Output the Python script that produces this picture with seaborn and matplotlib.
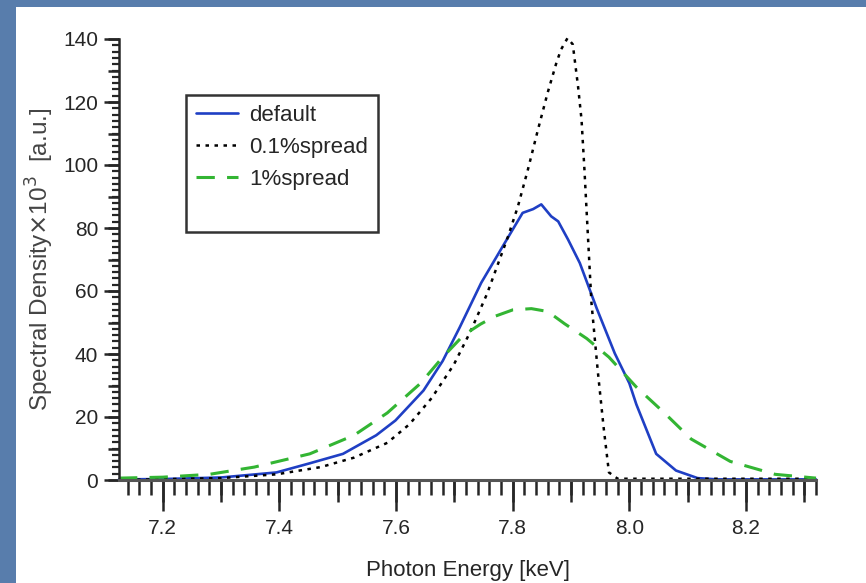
import numpy as np
import pandas as pd
import matplotlib
matplotlib.use("Agg")
import matplotlib.pyplot as plt
from matplotlib.ticker import MultipleLocator, FixedLocator, NullFormatter
from matplotlib.lines import Line2D
from matplotlib.patches import Rectangle
import seaborn as sns

sns.set_style("ticks")
plt.rcParams['font.family'] = ['Liberation Sans Narrow', 'Liberation Sans', 'DejaVu Sans']

# photon energy [keV] / spectral density x10^3
default_x = [7.125, 7.20, 7.30, 7.395, 7.452, 7.509, 7.566, 7.599, 7.647, 7.680, 7.709,
             7.746, 7.783, 7.817, 7.835, 7.849, 7.866, 7.878, 7.895, 7.915, 7.944, 7.975,
             8.000, 8.012, 8.046, 8.080, 8.117, 8.15, 8.32]
default_y = [0.2, 0.3, 0.8, 2.4, 5.3, 8.3, 14.2, 18.9, 28.4, 37.8, 48.4,
             62.6, 74.2, 84.8, 86.0, 87.5, 83.7, 82.1, 76.3, 68.9, 54.5, 40.2,
             30.7, 24.0, 8.3, 3.0, 0.6, 0.2, 0.2]

narrow_x = [7.125, 7.30, 7.395, 7.471, 7.528, 7.585, 7.623, 7.661, 7.699, 7.728,
            7.756, 7.792, 7.809, 7.826, 7.843, 7.860, 7.875, 7.883, 7.894, 7.903,
            7.912, 7.918, 7.923, 7.929, 7.935, 7.946, 7.956, 7.965, 7.980, 8.32]
narrow_y = [0.0, 0.6, 1.8, 4.1, 7.1, 11.8, 17.7, 26.0, 36.6, 47.3,
            59.1, 77.3, 86.9, 98.5, 111.0, 123.0, 132.5, 136.7, 140.3, 138.3,
            125.0, 114.4, 98.5, 77.3, 56.3, 34.3, 16.5, 2.4, 0.4, 0.4]

wide_x = [7.125, 7.20, 7.28, 7.357, 7.452, 7.528, 7.585, 7.642, 7.680, 7.716,
          7.745, 7.77, 7.80, 7.832, 7.86, 7.889, 7.927, 7.965, 8.012, 8.06,
          8.106, 8.173, 8.25, 8.32]
wide_y = [0.6, 0.9, 1.8, 4.1, 8.3, 14.2, 21.3, 30.7, 39.0, 46.0,
          49.5, 52.0, 54.0, 54.4, 53.5, 49.6, 44.9, 39.0, 29.5, 21.3,
          13.0, 5.9, 1.8, 0.6]

series = ["default", "0.1%spread", "1%spread"]
colors = ["#1f3fc4", "black", "#33b533"]

df = pd.concat([
    pd.DataFrame({"energy": default_x, "density": default_y, "case": series[0]}),
    pd.DataFrame({"energy": narrow_x, "density": narrow_y, "case": series[1]}),
    pd.DataFrame({"energy": wide_x, "density": wide_y, "case": series[2]}),
])

fig = plt.figure(figsize=(8.66, 5.83), dpi=100, facecolor="#587dac")
fig.patches.append(Rectangle((16 / 866, 0), 1, 1 - 7 / 583, transform=fig.transFigure,
                             facecolor="white", edgecolor="none", zorder=-10))
ax = fig.add_axes([119 / 866, 1 - 480 / 583, (816 - 119) / 866, (480 - 39) / 583])
ax.set_facecolor("none")

styles = {"default": dict(ls="-", lw=1.9), "0.1%spread": dict(ls=(0, (1.4, 2.2)), lw=1.8),
          "1%spread": dict(ls=(0, (6, 4)), lw=2.2)}
for name, col in zip(series, colors):
    sub = df[df["case"] == name]
    sns.lineplot(data=sub, x="energy", y="density", color=col, ax=ax,
                 label=name, clip_on=False, **styles[name])

ax.set_xlim(7.125, 8.32)
ax.set_ylim(0, 140)
sns.despine(ax=ax)
ax.spines["left"].set_linewidth(1.8)
ax.spines["bottom"].set_linewidth(2.2)
ax.spines["bottom"].set_color("#555555")

ax.xaxis.set_major_locator(FixedLocator([7.2, 7.4, 7.6, 7.8, 8.0, 8.2]))
ax.xaxis.set_minor_locator(MultipleLocator(0.02))
ax.yaxis.set_major_locator(MultipleLocator(20))
ax.yaxis.set_minor_locator(MultipleLocator(2))
ax.set_xticklabels(["7.2", "7.4", "7.6", "7.8", "8.0", "8.2"])
ax.tick_params(axis="x", which="major", length=22, width=1.8, labelsize=15, pad=6)
ax.tick_params(axis="x", which="minor", length=11, width=1.8)
ax.tick_params(axis="y", which="major", length=11, width=1.8, labelsize=15, pad=4)
ax.tick_params(axis="y", which="minor", length=5, width=1.6)

# medium ticks every 0.1 keV / 10 units
secx = ax.secondary_xaxis("bottom")
secx.set_xticks(np.arange(7.1, 8.35, 0.1))
secx.xaxis.set_major_formatter(NullFormatter())
secx.tick_params(length=16, width=1.8)
secx.spines["bottom"].set_visible(False)
secy = ax.secondary_yaxis("left")
secy.set_yticks(np.arange(0, 141, 10))
secy.yaxis.set_major_formatter(NullFormatter())
secy.tick_params(length=8, width=1.8)
secy.spines["left"].set_visible(False)

ax.set_xlabel("Photon Energy [keV]", fontsize=16, labelpad=16)
ax.set_ylabel(r"Spectral Density$\times$10$^3$  [a.u.]", fontsize=17.5,
              family="Liberation Sans", color="#444444", labelpad=5)

handles, labels = ax.get_legend_handles_labels()
handles.append(Line2D([], [], color="none"))
labels.append(" ")
leg = ax.legend(handles, labels, loc="upper left", bbox_to_anchor=(0.096, 0.873),
                fontsize=16, frameon=True, fancybox=False, handlelength=1.9,
                handletextpad=0.5, labelspacing=0.5, borderpad=0.45, borderaxespad=0)
leg.get_frame().set_edgecolor("black")
leg.get_frame().set_linewidth(1.8)

fig.savefig("out.png", dpi=100, facecolor=fig.get_facecolor())
